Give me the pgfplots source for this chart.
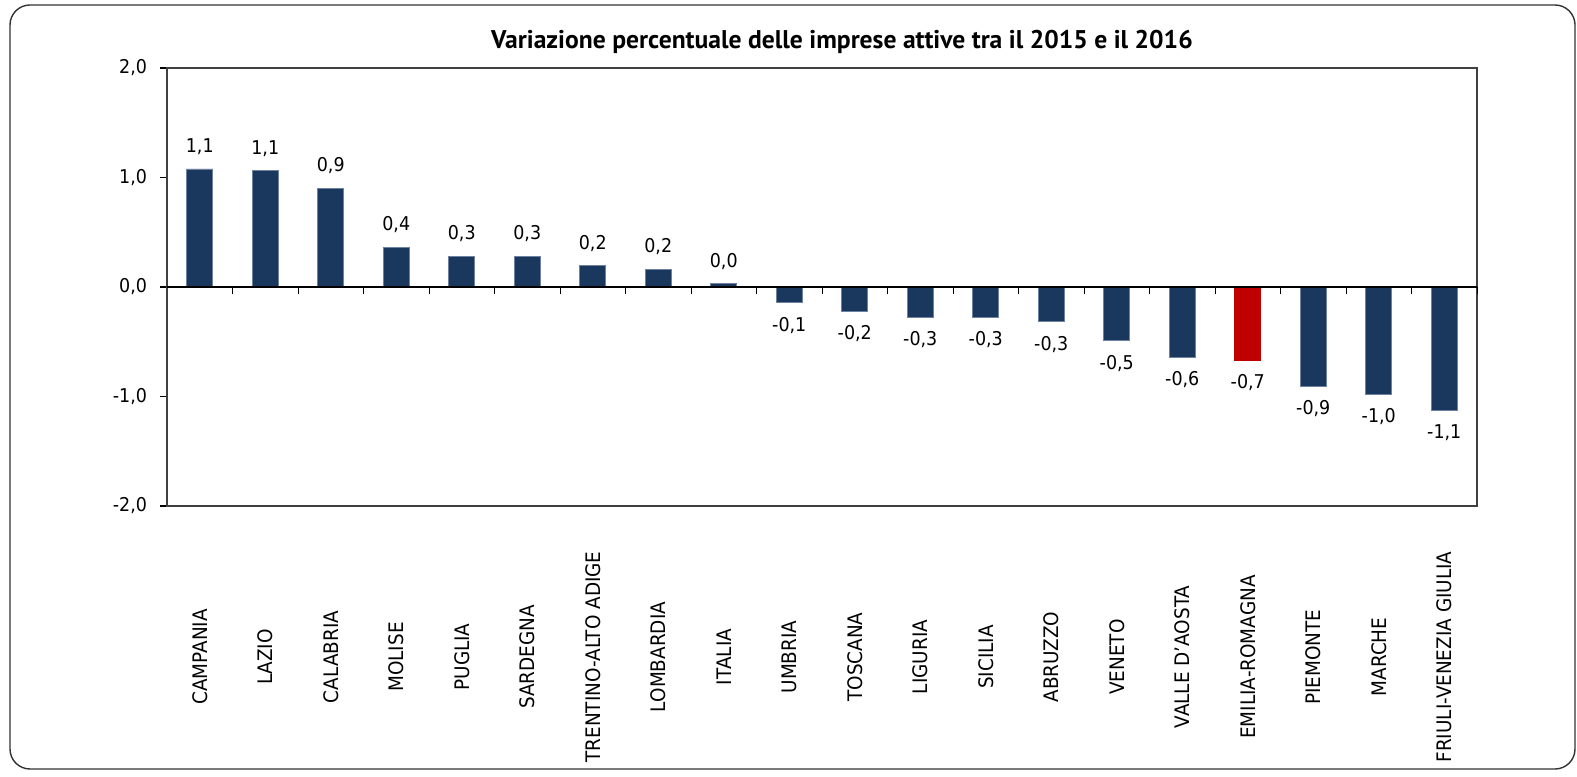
\documentclass[border=0pt]{standalone}
\usepackage{fontspec}
\setmainfont{DejaVu Sans}[FakeStretch=0.92]
\newfontfamily\titlefont{PT Sans}
\usepackage{pgfplots}
\pgfplotsset{compat=1.18}
\definecolor{barblue}{HTML}{1A375E}
\definecolor{barred}{HTML}{C00000}
\definecolor{baredge}{RGB}{110,130,160}
\begin{document}
\begin{tikzpicture}[x=1pt,y=1pt]
\useasboundingbox (0,0) rectangle (788.5,388);
\draw[line width=0.7pt, color=black!80, rounded corners=10pt] (5,385.5) rectangle (787.5,3.5);
\node[font=\titlefont\bfseries\fontsize{12.8}{14}\selectfont] at (421,367) {Variazione percentuale delle imprese attive tra il 2015 e il 2016};
\begin{axis}[
  at={(83.5pt,135pt)}, anchor=south west, scale only axis,
  width=655pt, height=219pt,
  xmin=-0.5, xmax=19.5, ymin=-2, ymax=2,
  ytick={-2,-1,0,1,2},
  yticklabel={\pgfmathprintnumber[fixed,fixed zerofill,precision=1,use comma]{\tick}},
  /pgf/number format/assume math mode=true,
  xtick={0,...,19},
  xticklabels={CAMPANIA,LAZIO,CALABRIA,MOLISE,PUGLIA,SARDEGNA,TRENTINO-ALTO ADIGE,LOMBARDIA,ITALIA,UMBRIA,TOSCANA,LIGURIA,SICILIA,ABRUZZO,VENETO,VALLE D'AOSTA,EMILIA-ROMAGNA,PIEMONTE,MARCHE,FRIULI-VENEZIA GIULIA},
  x tick label style={yshift=-72pt, rotate=90, anchor=center, font=\fontsize{10}{12}\selectfont},
  y tick label style={font=\fontsize{9.5}{11}\selectfont, xshift=-3pt},
  major x tick style={draw=none},
  tick align=outside,
  ytick pos=left,
  major tick length=3.5pt,
  y tick style={black, line width=0.6pt},
  axis line style={black!75, line width=0.7pt},
  ybar, bar width=13pt, bar shift=0pt,
  nodes near coords={\pgfmathprintnumber[fixed,fixed zerofill,precision=1,use comma]{\pgfplotspointmeta}},
  every node near coord/.append style={font=\fontsize{9.5}{11}\selectfont, inner ysep=7pt, inner xsep=1pt, black},
  clip=false,
]
\addplot[fill=barblue, draw=baredge, line width=0.3pt] coordinates {
(0,1.078) (1,1.062) (2,0.904) (3,0.365) (4,0.283) (5,0.283) (6,0.194) (7,0.164) (8,0.03)
(9,-0.143) (10,-0.22) (11,-0.277) (12,-0.277) (13,-0.317) (14,-0.49) (15,-0.64)
(17,-0.905) (18,-0.977) (19,-1.13)};
\addplot[fill=barred, draw=barred, line width=0.3pt] coordinates {(16,-0.67)};
\draw[black, line width=0.6pt] (axis cs:-0.5,0) -- (axis cs:19.5,0);
\pgfplotsinvokeforeach{0.5,1.5,...,19.5}{
  \draw[black, line width=0.5pt] (axis cs:#1,0) -- ([yshift=-3.5pt]axis cs:#1,0);
}
\end{axis}
\end{tikzpicture}
\end{document}
